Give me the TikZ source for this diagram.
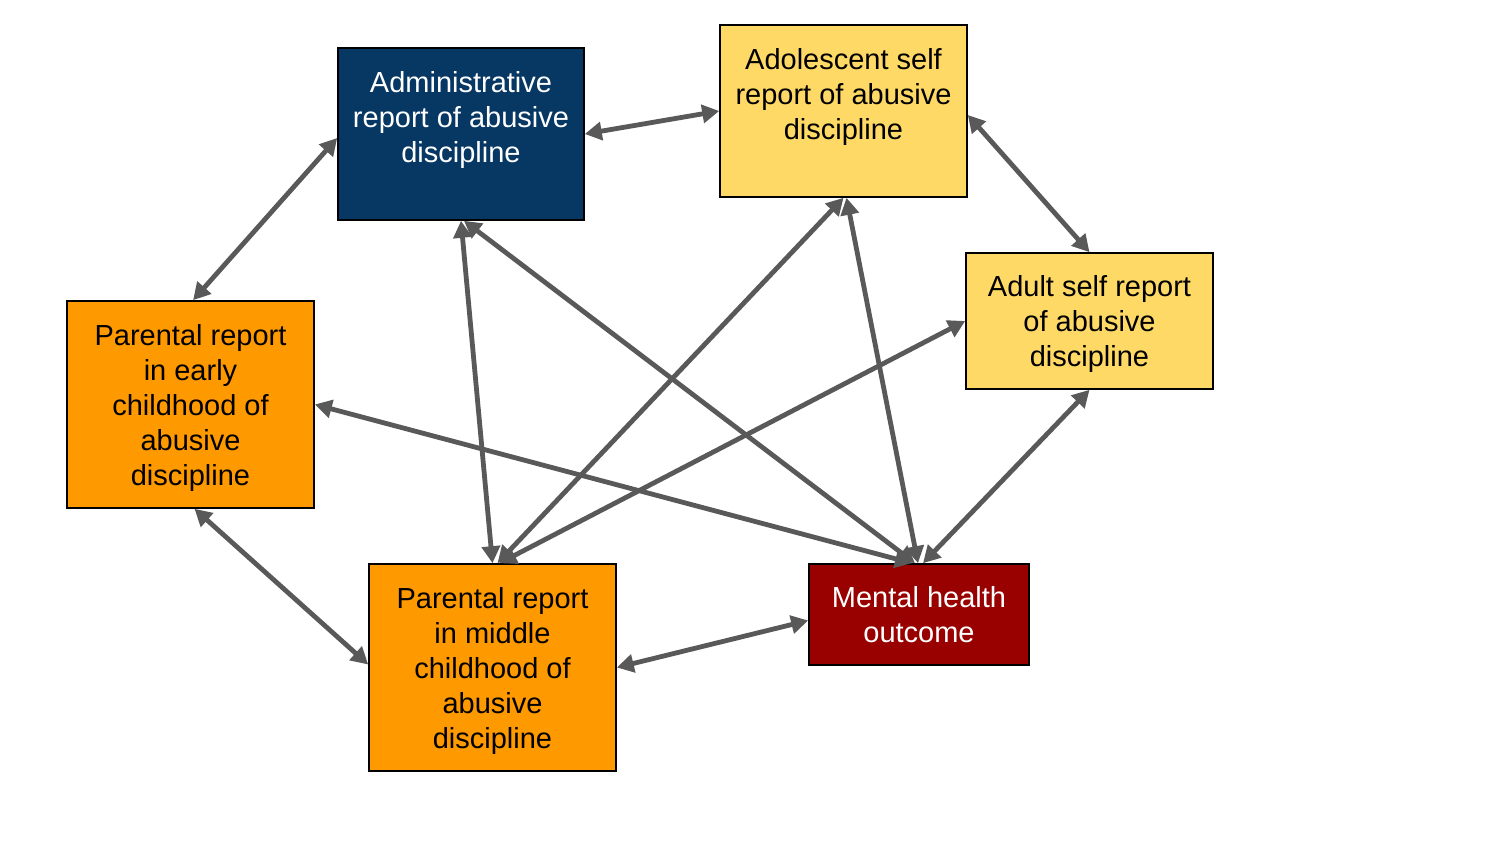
\documentclass[tikz,border=0pt]{standalone}
\usepackage{fontspec}
\setmainfont{Liberation Sans}
\usetikzlibrary{arrows.meta}
\definecolor{navy}{HTML}{073763}
\definecolor{lyellow}{HTML}{FFD966}
\definecolor{orng}{HTML}{FF9900}
\definecolor{dred}{HTML}{990000}
\definecolor{agray}{HTML}{595959}
\tikzset{
  box/.style={draw=black, line width=0.8pt, align=center, inner sep=0pt, text depth=0pt,
    font=\fontsize{14.5pt}{17.5pt}\selectfont},
  link/.style={agray, line width=2.4pt,
    {Triangle[length=8.5pt,width=9pt]}-{Triangle[length=8.5pt,width=9pt]}}
}
\begin{document}
\begin{tikzpicture}[x=0.5pt,y=-0.5pt]
\useasboundingbox (0,0) rectangle (1500,844);
\node[box, fill=navy, text=white, minimum width=123pt, minimum height=86pt] (admin) at (461,134)
  {Administrative\\report of abusive\\discipline\\\mbox{}};
\node[box, fill=lyellow, minimum width=123.5pt, minimum height=86pt] (adol) at (843.5,111)
  {Adolescent self\\report of abusive\\discipline\\\mbox{}};
\node[box, fill=lyellow, minimum width=123.5pt, minimum height=68pt] (adult) at (1089.5,321)
  {Adult self report\\of abusive\\discipline};
\node[box, fill=orng, minimum width=123.5pt, minimum height=103.5pt] (early) at (190.5,404.5)
  {Parental report\\in early\\childhood of\\abusive\\discipline};
\node[box, fill=orng, minimum width=123.5pt, minimum height=103.5pt] (middle) at (492.5,667.5)
  {Parental report\\in middle\\childhood of\\abusive\\discipline};
\node[box, fill=dred, text=white, minimum width=110pt, minimum height=50.5pt] (mental) at (919,614.5)
  {Mental health\\outcome};

\draw[link] ([yshift=-2pt]admin.west) -- ([xshift=1.3pt]early.north);
\draw[link] (admin.east) -- (adol.west);
\draw[link] ([yshift=-2pt]adol.east) -- (adult.north);
\draw[link] (admin.south) -- (middle.north);
\draw[link] ([xshift=1.5pt]admin.south) -- ([xshift=-2pt]mental.north);
\draw[link] (adol.south) -- ([xshift=2.5pt]middle.north);
\draw[link] ([xshift=1.5pt]adol.south) -- ([xshift=-0.5pt]mental.north);
\draw[link] (adult.west) -- ([xshift=3.5pt]middle.north);
\draw[link] (early.east) -- ([xshift=-3.5pt]mental.north);
\draw[link] (adult.south) -- ([xshift=2pt]mental.north);
\draw[link] ([xshift=2pt]early.south) -- ([yshift=1.5pt]middle.west);
\draw[link] (middle.east) -- ([yshift=-3pt]mental.west);
\end{tikzpicture}
\end{document}
